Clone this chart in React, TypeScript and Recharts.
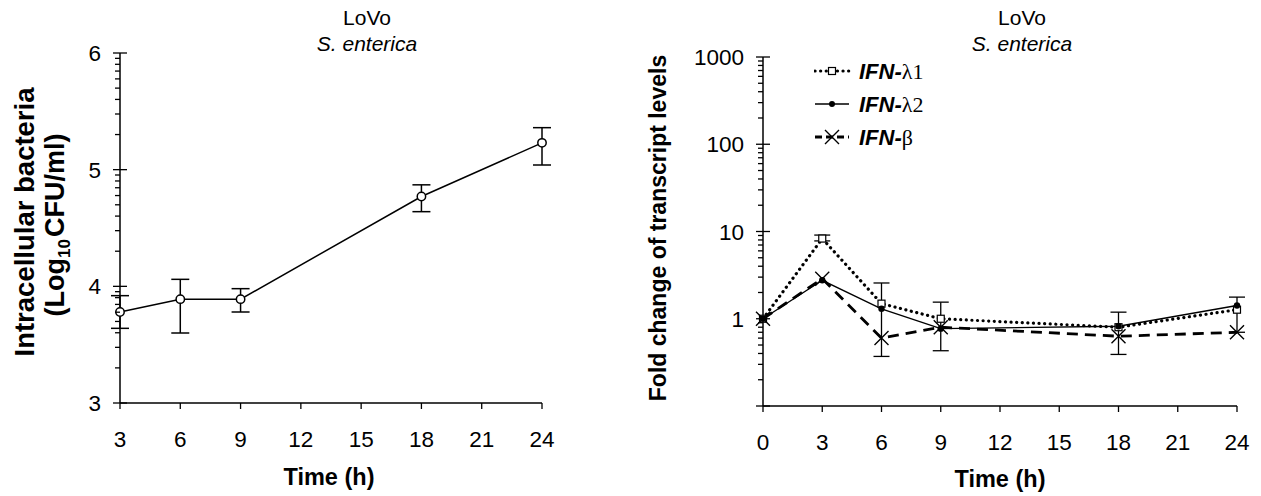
import React from 'react';
import { LineChart, Line, XAxis, YAxis, ErrorBar, Legend } from 'recharts';

const SANS = '"Liberation Sans", Arial, sans-serif';
const SERIF = '"Liberation Serif", "Times New Roman", serif';

// left panel: intracellular bacteria (log10 CFU/ml)
const cfuTimes = [3, 6, 9, 18, 24];
const cfuLog = [3.78, 3.89, 3.89, 4.77, 5.23];
const cfuErr = [[0.14, 0.14], [0.29, 0.17], [0.11, 0.09], [0.13, 0.1], [0.19, 0.13]];

// right panel: fold change of transcript levels
const ifnTimes = [0, 3, 6, 9, 18, 24];
const ifnL1 = [1, 8.3, 1.49, 1.0, 0.8, 1.27];
const ifnL2 = [1, 2.76, 1.3, 0.77, 0.82, 1.42];
const ifnB = [1, 2.88, 0.6, 0.8, 0.63, 0.7];
const ifnL1Err = [null, [0.5, 0.8], null, [0.57, 0.55], [0.41, 0.39], null];
const ifnL2Err = [null, null, [0.93, 1.27], null, null, [0.72, 0.35]];

const leftTimeTicks = [3, 6, 9, 12, 15, 18, 21, 24];
const rightTimeTicks = [0, 3, 6, 9, 12, 15, 18, 21, 24];
const cfuMajor = [3, 4, 5, 6];
const cfuLabels = ['3', '4', '5', '6'];
const foldMajor = [0.1, 1, 10, 100, 1000];
const foldLabels = ['', '1', '10', '100', '1000'];

const minorSteps = [2, 3, 4, 5, 6, 7, 8, 9];
const cfuMinor = [3, 4, 5].flatMap((d) => minorSteps.map((k) => d + Math.log10(k)));
const foldMinor = [0.1, 1, 10, 100].flatMap((d) => minorSteps.map((k) => d * k));

const cfuData = cfuTimes.map((t, i) => ({ t, v: cfuLog[i], e: cfuErr[i] }));
const ifnData = ifnTimes.map((t, i) => ({
  t, l1: ifnL1[i], l2: ifnL2[i], b: ifnB[i], e1: ifnL1Err[i], e2: ifnL2Err[i],
}));

const YTick = (props: any) => {
  const { x, y, payload, majors, labels } = props;
  const idx = majors.findIndex((m: number) => Math.abs(m - payload.value) < 1e-9);
  const major = idx >= 0;
  return (
    <g>
      <line x1={x - (major ? 7 : 5)} x2={x + (major ? 7 : 0)} y1={y} y2={y} stroke="#000" strokeWidth={1.3} />
      {major && labels[idx] ? (
        <text x={x - 19} y={y} dy="0.36em" textAnchor="end" fontFamily={SANS} fontSize={22.5} fill="#000">
          {labels[idx]}
        </text>
      ) : null}
    </g>
  );
};

const XTick = (props: any) => {
  const { x, y, payload } = props;
  return (
    <text x={x} y={y + 38} textAnchor="middle" fontFamily={SANS} fontSize={22.5} fill="#000">
      {payload.value}
    </text>
  );
};

const OpenCircle = (p: any) => (
  <circle key={p.key} cx={p.cx} cy={p.cy} r={4.2} fill="#fff" stroke="#000" strokeWidth={1.5} />
);
const OpenSquare = (p: any) => (
  <rect key={p.key} x={p.cx - 3.5} y={p.cy - 3.5} width={7} height={7} fill="#fff" stroke="#000" strokeWidth={1.2} />
);
const FilledDot = (p: any) => <circle key={p.key} cx={p.cx} cy={p.cy} r={3.2} fill="#000" />;
const Cross = (p: any) => (
  <path key={p.key} d={`M${p.cx - 7},${p.cy - 7}L${p.cx + 7},${p.cy + 7}M${p.cx - 7},${p.cy + 7}L${p.cx + 7},${p.cy - 7}`}
    stroke="#000" strokeWidth={1.4} fill="none" />
);

const legendItems = [
  { name: 'λ1', dash: '0.1 5.5', width: 3.2, marker: 'square' },
  { name: 'λ2', dash: undefined, width: 1.4, marker: 'dot' },
  { name: 'β', dash: '7 4', width: 2.8, marker: 'cross' },
];

const renderLegend = () => (
  <svg width={160} height={100}>
    {legendItems.map((it, i) => {
      const y = 16 + i * 33;
      return (
        <g key={it.name}>
          <line x1={1} x2={35} y1={y} y2={y} stroke="#000" strokeWidth={it.width}
            strokeDasharray={it.dash} strokeLinecap={it.marker === 'square' ? 'round' : 'butt'} />
          {it.marker === 'square' && <rect x={14.5} y={y - 3.5} width={7} height={7} fill="#fff" stroke="#000" strokeWidth={1.2} />}
          {it.marker === 'dot' && <circle cx={18} cy={y} r={3} fill="#000" />}
          {it.marker === 'cross' && (
            <path d={`M${11},${y - 7}L${25},${y + 7}M${11},${y + 7}L${25},${y - 7}`} stroke="#000" strokeWidth={1.4} />
          )}
          <text x={45} y={y} dy="0.36em" fontSize={22} fill="#000">
            <tspan fontFamily={SANS} fontWeight="bold" fontStyle="italic">IFN-</tspan>
            <tspan fontFamily={SERIF}>{it.name}</tspan>
          </text>
        </g>
      );
    })}
  </svg>
);

export default function App() {
  return (
    <div style={{ position: 'absolute', left: 0, top: 0, width: 1261, height: 496, background: '#fff', overflow: 'hidden' }}>
      <div style={{ position: 'absolute', left: 0, top: 0 }}>
        <LineChart width={630} height={496} data={cfuData} margin={{ top: 53, right: 88, bottom: 0, left: 0 }}>
          <XAxis dataKey="t" type="number" domain={[3, 24]} ticks={leftTimeTicks} interval={0} height={93}
            axisLine={{ stroke: '#000', strokeWidth: 1.5 }} tickLine={{ stroke: '#000', strokeWidth: 1.3 }}
            tickSize={6} tickMargin={0} tick={<XTick />} />
          <YAxis type="number" domain={[3, 6]} ticks={[...cfuMajor, ...cfuMinor].sort((a, b) => a - b)} interval={0}
            width={120} axisLine={{ stroke: '#000', strokeWidth: 1.5 }} tickLine={false} tickSize={0} tickMargin={0}
            tick={<YTick majors={cfuMajor} labels={cfuLabels} />} allowDataOverflow />
          <Line dataKey="v" stroke="#000" strokeWidth={1.5} dot={OpenCircle} isAnimationActive={false}>
            <ErrorBar dataKey="e" width={9} stroke="#000" strokeWidth={1.5} direction="y" isAnimationActive={false} />
          </Line>
        </LineChart>
      </div>
      <div style={{ position: 'absolute', left: 630, top: 0 }}>
        <LineChart width={631} height={496} data={ifnData} margin={{ top: 57, right: 24, bottom: 0, left: 0 }}>
          <XAxis dataKey="t" type="number" domain={[0, 24]} ticks={rightTimeTicks} interval={0} height={90}
            axisLine={{ stroke: '#000', strokeWidth: 1.5 }} tickLine={{ stroke: '#000', strokeWidth: 1.3 }}
            tickSize={6} tickMargin={0} tick={<XTick />} />
          <YAxis type="number" scale="log" domain={[0.1, 1000]} allowDataOverflow
            ticks={[...foldMajor, ...foldMinor].sort((a, b) => a - b)} interval={0}
            width={133} axisLine={{ stroke: '#000', strokeWidth: 1.5 }} tickLine={false} tickSize={0} tickMargin={0}
            tick={<YTick majors={foldMajor} labels={foldLabels} />} />
          <Line dataKey="l1" stroke="#000" strokeWidth={3.2} strokeDasharray="0.1 5.5" strokeLinecap="round"
            dot={OpenSquare} isAnimationActive={false}>
            <ErrorBar dataKey="e1" width={8} stroke="#000" strokeWidth={1.3} direction="y" isAnimationActive={false} />
          </Line>
          <Line dataKey="l2" stroke="#000" strokeWidth={1.4} dot={FilledDot} isAnimationActive={false}>
            <ErrorBar dataKey="e2" width={8} stroke="#000" strokeWidth={1.3} direction="y" isAnimationActive={false} />
          </Line>
          <Line dataKey="b" stroke="#000" strokeWidth={2.8} strokeDasharray="11 7" dot={Cross} isAnimationActive={false} />
          <Legend layout="vertical" align="center" verticalAlign="middle" content={renderLegend}
            wrapperStyle={{ position: 'absolute', left: 184, top: 55, width: 160, height: 100 }} />
        </LineChart>
      </div>
      <svg width={1261} height={496} style={{ position: 'absolute', left: 0, top: 0, pointerEvents: 'none' }}>
        <g fontFamily={SANS} fill="#000">
          <text x={367} y={25} fontSize={21} textAnchor="middle">LoVo</text>
          <text x={367} y={51} fontSize={21} textAnchor="middle" fontStyle="italic">S. enterica</text>
          <text x={1022} y={25} fontSize={21} textAnchor="middle">LoVo</text>
          <text x={1022} y={51} fontSize={21} textAnchor="middle" fontStyle="italic">S. enterica</text>
          <text x={329} y={485} fontSize={23.5} fontWeight="bold" textAnchor="middle">Time (h)</text>
          <text x={1000} y={487} fontSize={23.5} fontWeight="bold" textAnchor="middle">Time (h)</text>
          <text x={34} y={222} fontSize={27.5} fontWeight="bold" textAnchor="middle" transform="rotate(-90 34 222)">
            Intracellular bacteria
          </text>
          <text x={64} y={225} fontSize={27} fontWeight="bold" textAnchor="middle" transform="rotate(-90 64 225)">
            <tspan>(Log</tspan>
            <tspan fontSize={17} dy={6}>10</tspan>
            <tspan dy={-6} dx={2}>CFU/ml)</tspan>
          </text>
          <text x={666} y={228} fontSize={23} fontWeight="bold" textAnchor="middle" transform="rotate(-90 666 228)">
            Fold change of transcript levels
          </text>
        </g>
      </svg>
    </div>
  );
}
